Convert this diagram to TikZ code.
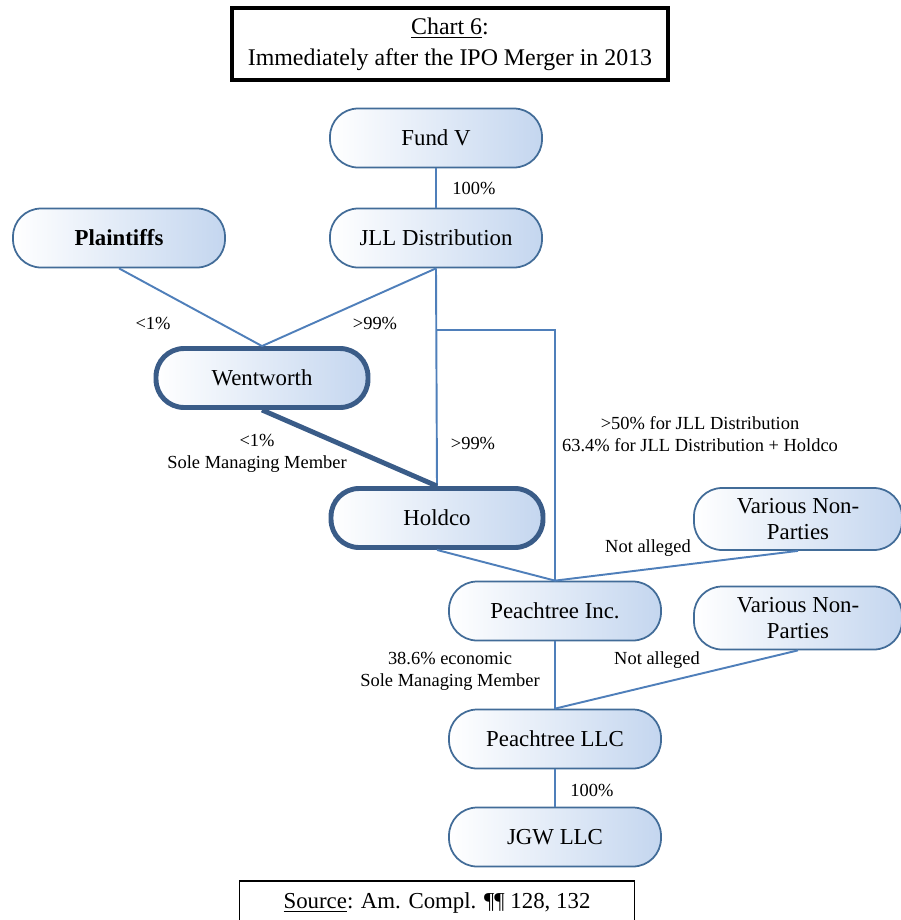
\documentclass[tikz,border=0pt]{standalone}
\usepackage{fontspec}
\setmainfont{Liberation Serif}
\usetikzlibrary{positioning}

\definecolor{edgeblue}{RGB}{66,108,152}
\definecolor{thickblue}{RGB}{58,92,136}
\definecolor{lineblue}{RGB}{79,127,186}
\definecolor{fillblue}{RGB}{196,214,239}

\tikzset{
  ent/.style={draw=edgeblue,line width=1pt,rounded corners=0.56cm,left color=white,right color=fillblue,
    minimum width=4.24cm,minimum height=1.18cm,align=center,font=\fontsize{13}{14.5}\selectfont,inner sep=1pt},
  entthick/.style={ent,draw=thickblue,line width=2.8pt},
  link/.style={draw=lineblue,line width=1.1pt},
  lbl/.style={font=\fontsize{10.5}{12.4}\selectfont,align=center,inner sep=0pt}
}

\begin{document}
\begin{tikzpicture}[x=0.02cm,y=-0.02cm]
\useasboundingbox (0,0) rectangle (901,920);
\clip (0,0) rectangle (901,920);

% title and source
\node[draw,line width=2pt,minimum width=8.72cm,minimum height=1.44cm,align=center,font=\fontsize{13.6}{17.5}\selectfont] (title) at (450,44) {\underline{Chart 6}:\\Immediately after the IPO Merger in 2013};
\node[draw,line width=0.6pt,minimum width=7.9cm,minimum height=0.88cm,font=\fontsize{13}{15}\selectfont] (source) at (437,903) {\underline{Source}: Am. Compl. ¶¶ 128, 132};

% entities
\node[ent] (fund) at (436,138) {Fund V};
\node[ent] (jll) at (436,238) {JLL Distribution};
\node[ent] (plaintiffs) at (119,238) {\textbf{Plaintiffs}};
\node[entthick] (wentworth) at (262,378) {Wentworth};
\node[entthick] (holdco) at (437,518) {Holdco};
\node[ent,minimum width=4.16cm,minimum height=1.24cm] (nonparty_a) at (798,519) {Various Non-\\Parties};
\node[ent] (pinc) at (555,611) {Peachtree Inc.};
\node[ent,minimum width=4.16cm,minimum height=1.26cm] (nonparty_b) at (798,618) {Various Non-\\Parties};
\node[ent] (pllc) at (555,739) {Peachtree LLC};
\node[ent] (jgw) at (555,837) {JGW LLC};

% ownership lines
\coordinate (split) at (jll.south |- 0,330);
\draw[link] (fund.south) -- (jll.north);
\draw[link] (plaintiffs.south) -- (wentworth.north);
\draw[link] (jll.south) -- (wentworth.north);
\draw[link] (jll.south) -- (holdco.north);
\draw[link] (split) -| (pinc.north);
\draw[link,draw=thickblue,line width=2.8pt] (wentworth.south) -- (holdco.north);
\draw[link] (holdco.south) -- (pinc.north);
\draw[link] (nonparty_a.south) -- (pinc.north);
\draw[link] (pinc.south) -- (pllc.north);
\draw[link] (nonparty_b.south) -- (pllc.north);
\draw[link] (pllc.south) -- (jgw.north);

% percentages
\node[lbl] (l_fund) at (474,188) {100\%};
\node[lbl] (l_plain) at (153,323) {<1\%};
\node[lbl] (l_jllw) at (375,323) {>99\%};
\node[lbl] (l_went) at (257,453) {<1\%\\Sole Managing Member};
\node[lbl] (l_jllh) at (473,443) {>99\%};
\node[lbl] (l_jllp) at (700,434) {>50\% for JLL Distribution\\63.4\% for JLL Distribution + Holdco};
\node[lbl] (l_npa) at (648,548) {Not alleged};
\node[lbl] (l_pinc) at (450,671) {38.6\% economic\\Sole Managing Member};
\node[lbl] (l_npb) at (657,660) {Not alleged};
\node[lbl] (l_pllc) at (592,790) {100\%};
\end{tikzpicture}
\end{document}
